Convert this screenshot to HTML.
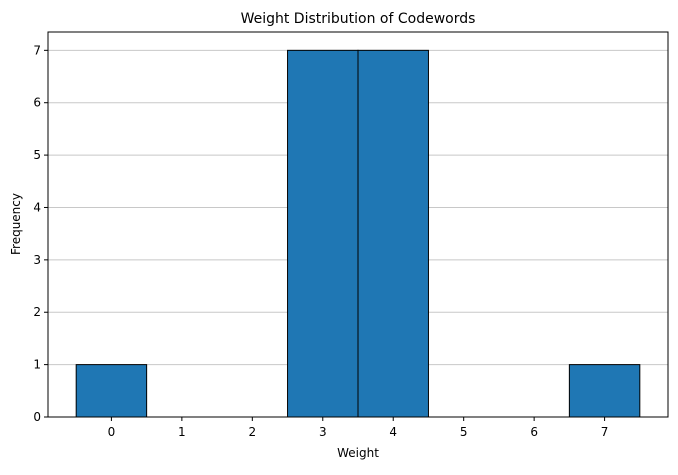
<!DOCTYPE html>
<html><head><meta charset="utf-8">
<style>
body{margin:0;background:#fff;font-family:"Liberation Sans","DejaVu Sans",sans-serif;}
svg text{font-family:"DejaVu Sans","Liberation Sans",sans-serif;}
</style></head>
<body>
<svg id="chart" width="678" height="470" xmlns="http://www.w3.org/2000/svg">
<rect width="678" height="470" fill="#fff"/>
<text x="358" y="23" font-size="14" text-anchor="middle" fill="#000">Weight Distribution of Codewords</text>
<g id="grid"></g>
<g id="bars"></g>
<g id="axes"></g>
<text x="358" y="457" font-size="12" text-anchor="middle">Weight</text>
<text x="20" y="224" font-size="12" text-anchor="middle" transform="rotate(-90 20 224)">Frequency</text>
</svg>
<script>
const categories = [0, 1, 2, 3, 4, 5, 6, 7];
const frequencies = [1, 0, 0, 7, 7, 0, 0, 1];
const yTicks = [0, 1, 2, 3, 4, 5, 6, 7];
const xTicks = [0, 1, 2, 3, 4, 5, 6, 7];

const L=48,R=668,T=32,B=417;
const xMin=-0.9,xMax=7.9,yMin=0,yMax=7.35;
const xs=v=>L+(v-xMin)/(xMax-xMin)*(R-L);
const ys=v=>B-(v-yMin)/(yMax-yMin)*(B-T);
const NS="http://www.w3.org/2000/svg";
function mk(tag,attrs,parent){const e=document.createElementNS(NS,tag);for(const k in attrs)e.setAttribute(k,attrs[k]);parent.appendChild(e);return e;}
const grid=document.getElementById('grid'),bars=document.getElementById('bars'),axes=document.getElementById('axes');
yTicks.forEach(t=>{
  const g=mk('line',{x1:L,x2:R,y1:ys(t),y2:ys(t),stroke:'#c8c8c8','stroke-width':1},grid);
  
  
  const tk=mk('line',{x1:L-4,x2:L,y1:ys(t),y2:ys(t),stroke:'#000'},axes);
  
  
  const lb=mk('text',{x:L-7,y:ys(t)+4,'font-size':12,'text-anchor':'end'},axes);
  lb.textContent=t;
  
  
});
categories.forEach((c,i)=>{
  const v=frequencies[i];
  if(v>0){
    const r=mk('rect',{x:xs(c-0.5),y:ys(v),width:xs(c+0.5)-xs(c-0.5),height:ys(0)-ys(v),fill:'#1f77b4',stroke:'#000','stroke-width':1},bars);
    
    
  }
});
xTicks.forEach(t=>{
  const tk=mk('line',{x1:xs(t),x2:xs(t),y1:B,y2:B+4,stroke:'#000'},axes);
  
  
  const lb=mk('text',{x:xs(t),y:B+19,'font-size':12,'text-anchor':'middle'},axes);
  lb.textContent=t;
  
  
});
const frame=mk('rect',{x:L,y:T,width:R-L,height:B-T,fill:'none',stroke:'#000','stroke-width':1},axes);


</script>
</body></html>
